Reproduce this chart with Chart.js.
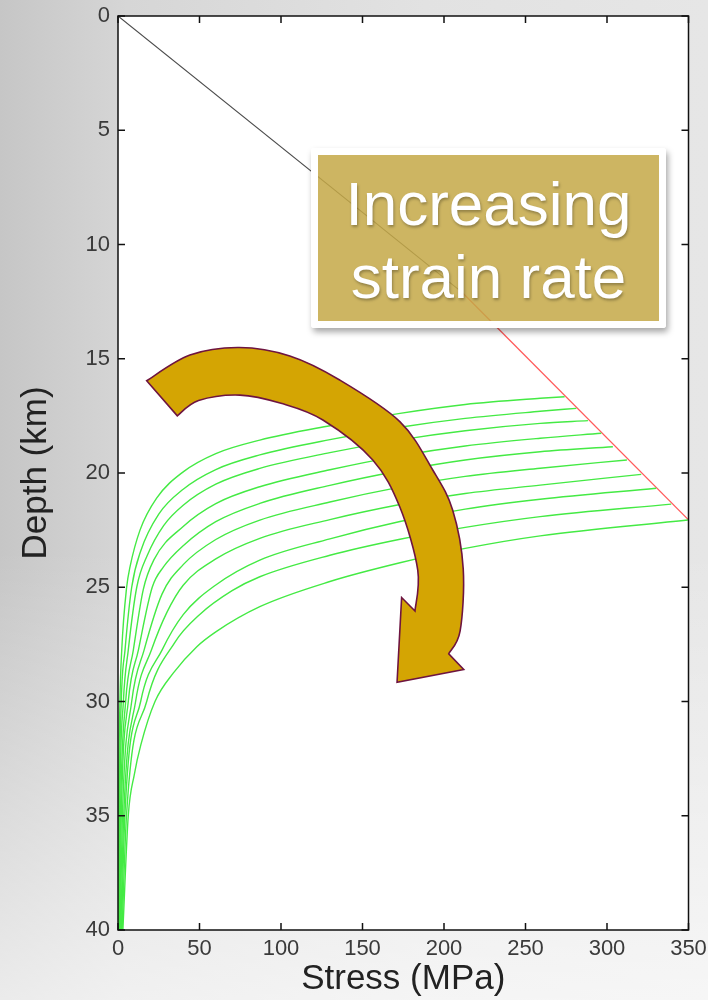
<!DOCTYPE html>
<html>
<head>
<meta charset="utf-8">
<script src="https://cdn.jsdelivr.net/npm/chart.js@4/dist/chart.umd.min.js"></script>
<style>
    html, body {
        margin: 0;
        padding: 0;
    }
    body {
        width: 708px;
        height: 1000px;
        position: relative;
        overflow: hidden;
        background:
            linear-gradient(to bottom, rgba(255,255,255,0) 55%, rgba(255,255,255,0.65) 100%),
            linear-gradient(to right, #c6c6c6 0%, #d6d6d6 18%, #e2e2e2 60%, #e6e6e6 100%);
    }
    #chart {
        position: absolute;
        left: 0;
        top: 0;
    }
    .label-box {
        position: absolute;
        left: 311px;
        top: 148px;
        width: 341px;
        height: 166px;
        border: 7px solid #fff;
        border-radius: 3px;
        background: rgba(196, 168, 70, 0.85);
        box-shadow: 2px 4px 6px rgba(0, 0, 0, 0.35);
        color: #fff;
        font-family: "Liberation Sans", Arial, sans-serif;
        font-size: 62px;
        line-height: 73px;
        text-align: center;
        text-shadow: 1px 2px 3px rgba(0, 0, 0, 0.3);
    }
    .label-box div {
        padding-top: 12px;
    }
</style>
</head>
<body>
<canvas id="chart" width="708" height="1000"></canvas>
<div class="label-box"><div>Increasing<br>strain rate</div></div>
<script>
// brittle strength line (stress MPa, depth km)
const brittleUpper = [[0, 0], [211.5, 12.12]];
const brittleLower = [[211.5, 12.12], [350, 22.05]];

// ductile creep curves, slowest strain rate first: [stress, depth]
const creep1 = [[0.2, 40], [0.4, 35], [1.2, 30], [2.3, 27.75], [5.3, 25], [7.4, 24.1], [13.5, 22.5], [23.7, 21.1], [40, 19.95], [60, 19.15], [87, 18.56], [130, 17.93], [173, 17.39], [213, 17.0], [259, 16.73], [274, 16.66]];
const creep2 = [[0.35, 40], [0.7, 35], [2.0, 30], [4.3, 27.75], [8.4, 25], [14, 23.4], [25, 21.8], [40, 20.71], [60, 19.85], [87, 19.21], [130, 18.54], [173, 18.0], [213, 17.61], [259, 17.3], [281.2, 17.17]];
const creep3 = [[0.5, 40], [1.0, 35], [3.3, 30], [6.3, 27.75], [11.5, 25], [18, 23.6], [28, 22.3], [40, 21.41], [60, 20.49], [87, 19.8], [130, 19.11], [173, 18.55], [213, 18.15], [259, 17.83], [288.3, 17.71]];
const creep4 = [[0.7, 40], [1.5, 35], [4.7, 30], [9.4, 27.75], [15.5, 25.1], [22, 23.8], [40, 22.34], [60, 21.34], [87, 20.6], [130, 19.86], [173, 19.25], [213, 18.82], [259, 18.48], [296.5, 18.26]];
const creep5 = [[1.0, 40], [2.0, 35], [6.3, 30], [12.5, 27.75], [21, 25], [28, 24.1], [40, 23.18], [60, 22.13], [87, 21.33], [130, 20.54], [173, 19.9], [213, 19.43], [259, 19.07], [303.6, 18.85]];
const creep6 = [[1.3, 40], [2.7, 35], [8.4, 30], [16, 27.75], [27, 25.3], [40, 24.01], [60, 22.91], [87, 22.06], [130, 21.27], [173, 20.62], [213, 20.15], [259, 19.79], [312.2, 19.43]];
const creep7 = [[1.7, 40], [3.5, 35], [10.8, 30], [20.5, 27.75], [30, 26.1], [40, 24.91], [60, 23.76], [87, 22.86], [130, 22.04], [173, 21.38], [213, 20.9], [259, 20.53], [321, 20.06]];
const creep8 = [[2.1, 40], [4.2, 35], [13.9, 30], [27, 27.75], [40, 26.2], [60, 24.9], [87, 23.81], [130, 22.88], [173, 22.12], [213, 21.58], [259, 21.15], [330.2, 20.67]];
const creep9 = [[2.5, 40], [5.2, 35], [17.6, 30], [35, 27.4], [50, 26.2], [70, 25.15], [87, 24.54], [130, 23.6], [173, 22.9], [213, 22.38], [259, 21.91], [339.4, 21.36]];
const creep10 = [[3.0, 40], [6.3, 35], [10, 33.2], [14, 31.9], [22.7, 30], [34, 28.75], [48.2, 27.61], [60, 26.95], [87, 25.85], [130, 24.75], [173, 23.93], [213, 23.3], [259, 22.75], [349.6, 22.06]];

// curved arrow outline in data units
const arrowOuter = [[17.6, 15.96], [44.1, 14.84], [74.4, 14.51], [105.4, 14.88], [136, 15.93], [172.9, 17.75], [193.1, 19.87], [205.3, 21.62], [211.8, 24.2], [209.9, 26.91], [202.9, 27.91]];
const arrowHead = [[212.1, 28.6], [171.2, 29.16], [174.0, 25.45]];
const arrowInner = [[182.2, 26.04], [183.9, 24.25], [172.9, 21.49], [156.3, 19.43], [125.7, 17.68], [100, 16.95], [74.8, 16.59], [49.4, 16.83], [36.4, 17.5]];

const xTicks = [0, 50, 100, 150, 200, 250, 300, 350];
const yTicks = [0, 5, 10, 15, 20, 25, 30, 35, 40];

const toPoints = (pairs) => pairs.map(p => ({ x: p[0], y: p[1] }));

const creepCurves = [creep1, creep2, creep3, creep4, creep5, creep6, creep7, creep8, creep9, creep10];

const datasets = creepCurves.map(c => ({
    data: toPoints(c),
    showLine: true,
    borderColor: '#44ea44',
    borderWidth: 1.4,
    pointRadius: 0,
    cubicInterpolationMode: 'monotone'
}));
datasets.push({
    data: toPoints(brittleUpper),
    showLine: true,
    borderColor: '#4a4a4a',
    borderWidth: 1.1,
    pointRadius: 0
});
datasets.push({
    data: toPoints(brittleLower),
    showLine: true,
    borderColor: '#ff5a5a',
    borderWidth: 1.3,
    pointRadius: 0
});

// smooth path through points (catmull-rom)
const smoothThrough = (ctx, pts) => {
    for (let i = 0; i < pts.length - 1; i++) {
        const p0 = pts[Math.max(i - 1, 0)];
        const p1 = pts[i];
        const p2 = pts[i + 1];
        const p3 = pts[Math.min(i + 2, pts.length - 1)];
        ctx.bezierCurveTo(
            p1[0] + (p2[0] - p0[0]) / 6, p1[1] + (p2[1] - p0[1]) / 6,
            p2[0] - (p3[0] - p1[0]) / 6, p2[1] - (p3[1] - p1[1]) / 6,
            p2[0], p2[1]
        );
    }
};

const framePlugin = {
    id: 'frame',
    beforeDraw(chart) {
        const { ctx, chartArea: a } = chart;
        ctx.save();
        ctx.fillStyle = '#ffffff';
        ctx.fillRect(a.left, a.top, a.right - a.left, a.bottom - a.top);
        ctx.restore();
    },
    afterDatasetsDraw(chart) {
        const { ctx, chartArea: a, scales } = chart;
        const xs = scales.x, ys = scales.y;
        const px = (p) => [xs.getPixelForValue(p[0]), ys.getPixelForValue(p[1])];

        // arrow
        const outer = arrowOuter.map(px);
        const inner = arrowInner.map(px);
        const head = arrowHead.map(px);
        ctx.save();
        ctx.beginPath();
        ctx.moveTo(outer[0][0], outer[0][1]);
        smoothThrough(ctx, outer);
        head.forEach(p => ctx.lineTo(p[0], p[1]));
        ctx.lineTo(inner[0][0], inner[0][1]);
        smoothThrough(ctx, inner);
        ctx.closePath();
        ctx.fillStyle = '#d4a503';
        ctx.fill();
        ctx.lineWidth = 1.6;
        ctx.strokeStyle = '#6e1440';
        ctx.lineJoin = 'miter';
        ctx.stroke();
        ctx.restore();

        // box and inward ticks
        ctx.save();
        ctx.strokeStyle = '#111';
        ctx.lineWidth = 1.5;
        ctx.strokeRect(a.left, a.top, a.right - a.left, a.bottom - a.top);
        ctx.beginPath();
        xTicks.forEach(v => {
            const x = xs.getPixelForValue(v);
            ctx.moveTo(x, a.bottom); ctx.lineTo(x, a.bottom - 7);
            ctx.moveTo(x, a.top); ctx.lineTo(x, a.top + 7);
        });
        yTicks.forEach(v => {
            const y = ys.getPixelForValue(v);
            ctx.moveTo(a.left, y); ctx.lineTo(a.left + 7, y);
            ctx.moveTo(a.right, y); ctx.lineTo(a.right - 7, y);
        });
        ctx.stroke();
        ctx.restore();
    }
};

const tickFont = { family: '"Liberation Sans", Arial, sans-serif', size: 22 };
const titleFont = { family: '"Liberation Sans", Arial, sans-serif', size: 35 };

new Chart(document.getElementById('chart').getContext('2d'), {
    type: 'scatter',
    data: { datasets: datasets },
    options: {
        responsive: false,
        devicePixelRatio: 1,
        animation: false,
        layout: { padding: { top: 16, right: 19.5, bottom: 0, left: 0 } },
        plugins: {
            legend: { display: false },
            tooltip: { enabled: false }
        },
        scales: {
            x: {
                type: 'linear',
                min: 0,
                max: 350,
                afterFit: (scale) => {
                    scale.height = 70;
                    scale.paddingLeft = 0;
                    scale.paddingRight = 0;
                },
                afterBuildTicks: (scale) => { scale.ticks = xTicks.map(v => ({ value: v })); },
                grid: { display: false, drawTicks: false },
                border: { display: false },
                ticks: { color: '#3a3a3a', font: tickFont, padding: 6, maxRotation: 0 },
                title: {
                    display: true,
                    text: 'Stress (MPa)',
                    color: '#222',
                    font: titleFont,
                    padding: { top: 0, bottom: 0 }
                }
            },
            y: {
                type: 'linear',
                min: 0,
                max: 40,
                reverse: true,
                afterFit: (scale) => {
                    scale.width = 118;
                    scale.paddingTop = 0;
                    scale.paddingBottom = 0;
                },
                afterBuildTicks: (scale) => { scale.ticks = yTicks.map(v => ({ value: v })); },
                grid: { display: false, drawTicks: false },
                border: { display: false },
                ticks: { color: '#3a3a3a', font: tickFont, padding: 8 },
                title: {
                    display: true,
                    text: 'Depth (km)',
                    color: '#222',
                    font: titleFont,
                    padding: { top: 15, bottom: 0 }
                }
            }
        }
    },
    plugins: [framePlugin]
});
</script>
</body>
</html>
